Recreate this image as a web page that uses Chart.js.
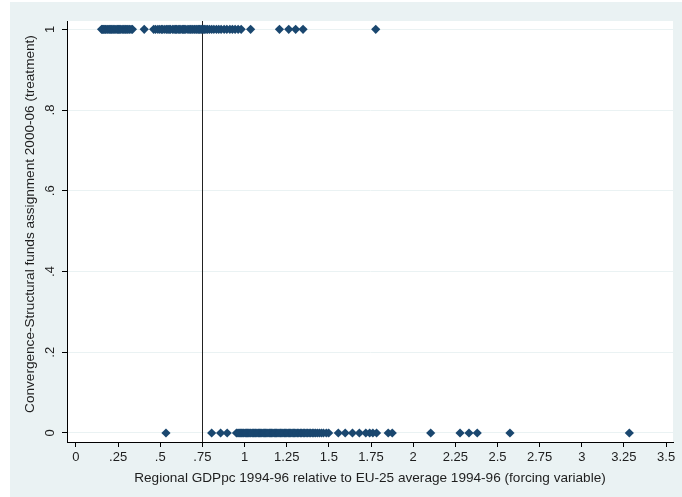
<!DOCTYPE html>
<html>
<head>
<meta charset="utf-8">
<script src="https://cdn.jsdelivr.net/npm/chart.js@4/dist/chart.umd.min.js"></script>
<style>
  html, body { margin: 0; padding: 0; background: #fff; }
  #wrap { width: 682px; height: 497px; }
</style>
</head>
<body>
<div id="wrap"><canvas id="chart" width="682" height="497"></canvas></div>
<script>
// GDPpc relative to EU-25 for regions that got Convergence funds (treatment = 1)
const treatedX = [0.152, 0.158, 0.163, 0.171, 0.176, 0.184, 0.19, 0.197, 0.203, 0.209, 0.215, 0.224,
  0.231, 0.238, 0.246, 0.252, 0.259, 0.266, 0.274, 0.281, 0.29, 0.296, 0.303, 0.309, 0.318, 0.327,
  0.335, 0.405, 0.461, 0.472, 0.486, 0.497, 0.508, 0.515, 0.527, 0.538, 0.546, 0.553, 0.561, 0.574,
  0.582, 0.59, 0.597, 0.606, 0.613, 0.622, 0.631, 0.637, 0.645, 0.652, 0.664, 0.671, 0.679, 0.688,
  0.694, 0.703, 0.712, 0.718, 0.726, 0.733, 0.741, 0.747, 0.755, 0.762, 0.771, 0.78, 0.792, 0.805,
  0.818, 0.833, 0.847, 0.861, 0.879, 0.895, 0.913, 0.928, 0.944, 0.962, 0.98, 1.036, 1.207, 1.262,
  1.303, 1.347, 1.778];
// regions without Convergence funds (treatment = 0)
const controlX = [0.534, 0.805, 0.858, 0.897, 0.952, 0.961, 0.968, 0.975, 0.983, 0.99, 0.996, 1.004,
  1.011, 1.017, 1.025, 1.032, 1.038, 1.046, 1.053, 1.061, 1.067, 1.074, 1.082, 1.089, 1.096, 1.103,
  1.111, 1.118, 1.124, 1.132, 1.139, 1.147, 1.154, 1.16, 1.168, 1.176, 1.183, 1.19, 1.198, 1.205,
  1.213, 1.221, 1.228, 1.236, 1.244, 1.251, 1.259, 1.267, 1.274, 1.282, 1.29, 1.297, 1.305, 1.314,
  1.322, 1.331, 1.339, 1.348, 1.356, 1.365, 1.374, 1.383, 1.392, 1.402, 1.411, 1.421, 1.432, 1.444,
  1.456, 1.468, 1.485, 1.499, 1.556, 1.597, 1.64, 1.681, 1.719, 1.742, 1.761, 1.783, 1.852, 1.876, 2.104,
  2.278, 2.331, 2.38, 2.574, 3.282];
const cutoff = 0.75;

const xTicks = [0, 0.25, 0.5, 0.75, 1, 1.25, 1.5, 1.75, 2, 2.25, 2.5, 2.75, 3, 3.25, 3.5];
const yTicks = [0, 0.2, 0.4, 0.6, 0.8, 1];

const navy = '#1a476f';
const bgColor = '#eaf2f3';
const textColor = '#1e1e1e';
const fontFamily = '"Liberation Sans", Arial, sans-serif';

// stata style labels: .25 instead of 0.25
function stataLabel(v) {
    let s = String(Math.round(v * 100) / 100);
    if (s.startsWith('0.')) s = s.slice(1);
    return s;
}

const points = treatedX.map(x => ({x: x, y: 1})).concat(controlX.map(x => ({x: x, y: 0})));

// background + white plot region
const bgPlugin = {
    id: 'bg',
    beforeDraw(chart) {
        const {ctx, chartArea: a} = chart;
        ctx.save();
        ctx.fillStyle = bgColor;
        ctx.fillRect(10, 2, chart.width - 10, chart.height - 2);
        ctx.fillStyle = '#fff';
        ctx.fillRect(a.left, a.top, a.right - a.left, a.bottom - a.top);
        ctx.restore();
    }
};

// cutoff line, rotated y tick labels and y title
const extrasPlugin = {
    id: 'extras',
    beforeDatasetsDraw(chart) {
        const {ctx, chartArea: a, scales} = chart;
        const px = Math.round(scales.x.getPixelForValue(cutoff)) + 0.5;
        ctx.save();
        ctx.strokeStyle = '#222';
        ctx.lineWidth = 1;
        ctx.beginPath();
        ctx.moveTo(px, a.top);
        ctx.lineTo(px, a.bottom);
        ctx.stroke();
        ctx.restore();
    },
    afterDraw(chart) {
        const {ctx, scales} = chart;
        ctx.save();
        ctx.fillStyle = textColor;
        ctx.font = '13px ' + fontFamily;
        ctx.textAlign = 'center';
        ctx.textBaseline = 'middle';
        yTicks.forEach(v => {
            const py = scales.y.getPixelForValue(v);
            ctx.save();
            ctx.translate(50, py);
            ctx.rotate(-Math.PI / 2);
            ctx.fillText(stataLabel(v), 0, 0);
            ctx.restore();
        });
        // y axis title, sits a little above the plot centre like the original
        ctx.font = '13.6px ' + fontFamily;
        ctx.translate(30, 224);
        ctx.rotate(-Math.PI / 2);
        ctx.fillText('Convergence-Structural funds assignment 2000-06 (treatment)', 0, 0);
        ctx.restore();
    }
};

const ctx = document.getElementById('chart').getContext('2d');
new Chart(ctx, {
    type: 'scatter',
    data: {
        datasets: [{
            data: points,
            pointStyle: 'rectRot',
            pointRadius: 4.6,
            pointBackgroundColor: navy,
            pointBorderColor: navy,
            pointBorderWidth: 0
        }]
    },
    options: {
        responsive: false,
        animation: false,
        layout: { padding: { left: 0, right: 9, top: 21, bottom: 0 } },
        plugins: {
            legend: { display: false },
            tooltip: { enabled: false }
        },
        scales: {
            x: {
                type: 'linear',
                min: -0.053,
                max: 3.541,
                afterBuildTicks: s => { s.ticks = xTicks.map(v => ({value: v})); },
                afterFit: s => { s.height = 55; },
                border: { display: true, color: '#000', width: 1 },
                grid: { drawOnChartArea: false, drawTicks: true, tickLength: 5, tickColor: '#000' },
                ticks: {
                    color: textColor,
                    padding: 3,
                    maxRotation: 0,
                    autoSkip: false,
                    font: { family: fontFamily, size: 13 },
                    callback: v => stataLabel(v)
                },
                title: {
                    display: true,
                    text: 'Regional GDPpc 1994-96 relative to EU-25 average 1994-96 (forcing variable)',
                    color: textColor,
                    font: { family: fontFamily, size: 13.6 },
                    padding: { top: 0, bottom: 11 }
                }
            },
            y: {
                type: 'linear',
                min: -0.0223,
                max: 1.0206,
                afterBuildTicks: s => { s.ticks = yTicks.map(v => ({value: v})); },
                afterFit: s => { s.width = 67; },
                border: { display: true, color: '#000', width: 1 },
                grid: { color: bgColor, lineWidth: 1, tickLength: 5, tickColor: '#000' },
                ticks: { display: false }
            }
        }
    },
    plugins: [bgPlugin, extrasPlugin]
});
</script>
</body>
</html>
